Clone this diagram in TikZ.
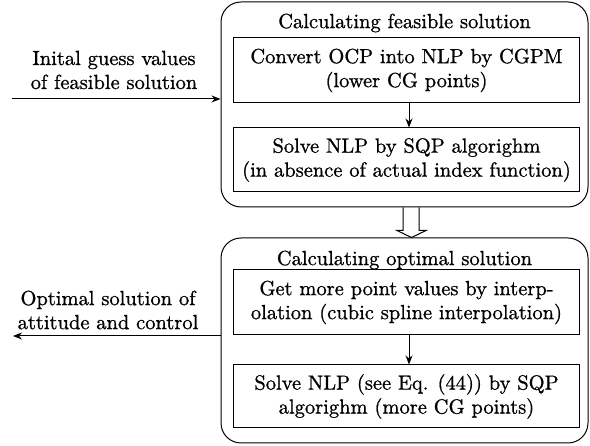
\documentclass[tikz,border=0pt]{standalone}
\usepackage{fontspec}
\newfontfamily\diagfont{lmroman10-regular}[Extension=.otf,FakeBold=0.9]
\usetikzlibrary{arrows.meta,calc}
\begin{document}
\begin{tikzpicture}[x=1pt,y=-1pt,
  every node/.style={font=\diagfont\fontsize{20.5}{24}\selectfont},
  outerbox/.style={draw,line width=1pt,rounded corners=20pt,minimum width=367pt,minimum height=205pt,inner sep=0pt},
  innerbox/.style={draw,line width=1pt,minimum width=346pt,inner sep=0pt,align=center},
  lbl/.style={align=center,inner sep=0pt},
  flow/.style={line width=1pt,-{Stealth[length=9pt,width=7pt]}}
]
\useasboundingbox (0,0) rectangle (590,446);
\node[outerbox] (outer1) at (404.5,104.5) {};
\node[outerbox] (outer2) at (404.5,340.5) {};
\node[lbl] (title1) at (404.5,23) {Calculating feasible solution};
\node[lbl] (title2) at (404.5,260) {Calculating optimal solution};
\node[innerbox,minimum height=65pt] (inner1) at (406.5,70.5) {Convert OCP into NLP by CGPM\\(lower CG points)};
\node[innerbox,minimum height=64pt] (inner2) at (406.5,160) {Solve NLP by SQP algorighm\\(in absence of actual index function)};
\node[innerbox,minimum height=65pt] (inner3) at (406.5,302.5) {Get more point values by interp-\\olation (cubic spline interpolation)};
\node[innerbox,minimum height=63pt] (inner4) at (406.5,396.5) {Solve NLP (see Eq. (44)) by SQP\\algorighm (more CG points)};
\node[lbl] (guess) at (114,70) {Inital guess values\\of feasible solution};
\node[lbl] (optim) at (108,310) {Optimal solution of\\attitude and control};
\coordinate (start) at (12,99);
\coordinate (finish) at (13,336);
\draw[flow] (start) -- (start -| outer1.west);
\draw[flow] (finish -| outer2.west) -- (finish);
\draw[flow] ([xshift=2.5pt]inner1.south) -- ([xshift=2.5pt]inner2.north);
\draw[flow] ([xshift=2.5pt]inner3.south) -- ([xshift=2.5pt]inner4.north);
\draw[line width=1pt,line join=miter]
  ($(outer1.south)+(-1.5,0)$) -- ($(outer2.north)+(-1.5,-7)$) -- ($(outer2.north)+(-7.5,-7)$)
  -- ($(outer2.north)+(7,0)$) -- ($(outer2.north)+(21.5,-7)$) -- ($(outer2.north)+(14.5,-7)$)
  -- ($(outer1.south)+(14.5,0)$);
\end{tikzpicture}
\end{document}
